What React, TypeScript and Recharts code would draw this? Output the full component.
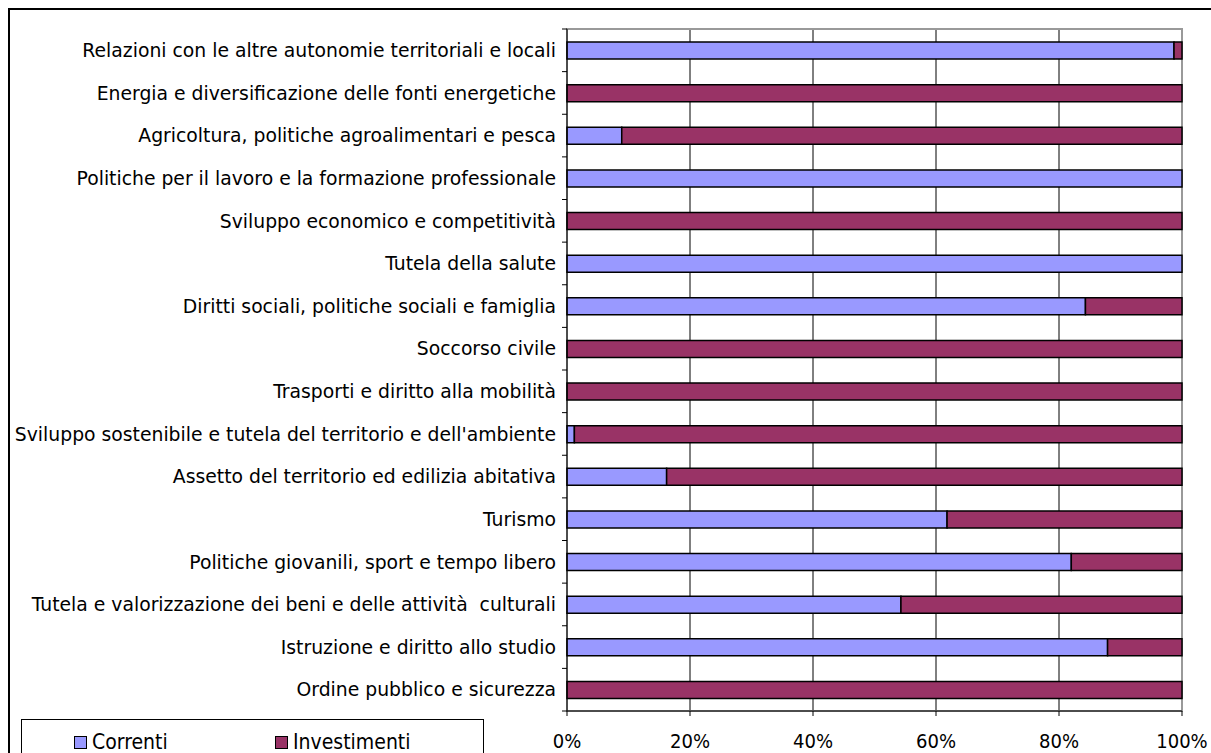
import React from "react";
import {
  BarChart,
  Bar,
  XAxis,
  YAxis,
  CartesianGrid,
  Legend,
  ReferenceArea,
} from "recharts";

// categories, top to bottom
const categories = [
  "Relazioni con le altre autonomie territoriali e locali",
  "Energia e diversificazione delle fonti energetiche",
  "Agricoltura, politiche agroalimentari e pesca",
  "Politiche per il lavoro e la formazione professionale",
  "Sviluppo economico e competitività",
  "Tutela della salute",
  "Diritti sociali, politiche sociali e famiglia",
  "Soccorso civile",
  "Trasporti e diritto alla mobilità",
  "Sviluppo sostenibile e tutela del territorio e dell'ambiente",
  "Assetto del territorio ed edilizia abitativa",
  "Turismo",
  "Politiche giovanili, sport e tempo libero",
  "Tutela e valorizzazione dei beni e delle attività  culturali",
  "Istruzione e diritto allo studio",
  "Ordine pubblico e sicurezza",
];

// shares in percent
const correnti = [98.7, 0, 8.9, 100, 0, 100, 84.3, 0, 0, 1.2, 16.2, 61.8, 82.0, 54.3, 87.9, 0];
const investimenti = [1.3, 100, 91.1, 0, 100, 0, 15.7, 100, 100, 98.8, 83.8, 38.2, 18.0, 45.7, 12.1, 100];

const xTicks = [0, 20, 40, 60, 80, 100];

const seriesNames = ["Correnti", "Investimenti"];
const CORRENTI_COLOR = "#9999ff";
const INVESTIMENTI_COLOR = "#993366";

const FONT = "'DejaVu Sans', sans-serif";
const FONT_NARROW = "'DejaVu Sans Condensed', 'DejaVu Sans', sans-serif";

const data = categories.map((name, i) => ({
  name,
  correnti: correnti[i],
  investimenti: investimenti[i],
}));

// category label plus a small tick mark at the band edges
const CategoryTick = (props: any) => {
  const { x, y, payload, index, visibleTicksCount } = props;
  const half = payload.offset || 0;
  return (
    <g>
      <line x1={x - 5} x2={x} y1={y - half} y2={y - half} stroke="#000" />
      {index === visibleTicksCount - 1 && (
        <line x1={x - 5} x2={x} y1={y + half} y2={y + half} stroke="#000" />
      )}
      <text
        x={x - 11}
        y={y}
        dy="0.36em"
        textAnchor="end"
        fontSize={18.8}
        fontFamily={FONT}
        fill="#000"
        style={{ whiteSpace: "pre" }}
      >
        {payload.value}
      </text>
    </g>
  );
};

const LegendBox = () => (
  <div
    style={{
      position: "relative",
      width: 461,
      height: 45,
      border: "1px solid #000",
      background: "#fff",
      fontFamily: FONT_NARROW,
      fontSize: 21,
      color: "#000",
    }}
  >
    {[CORRENTI_COLOR, INVESTIMENTI_COLOR].map((c, i) => (
      <div
        key={seriesNames[i]}
        style={{
          position: "absolute",
          left: i === 0 ? 52 : 253,
          top: 10,
          display: "flex",
          alignItems: "center",
          whiteSpace: "nowrap",
        }}
      >
        <span
          style={{
            display: "inline-block",
            width: 11,
            height: 11,
            background: c,
            border: "1px solid #000",
            marginRight: 5,
          }}
        />
        {seriesNames[i]}
      </div>
    ))}
  </div>
);

export default function App() {
  return (
    <div
      style={{
        position: "fixed",
        left: 0,
        top: 0,
        width: 1211,
        height: 753,
        overflow: "hidden",
        background: "#fff",
      }}
    >
      <div
        style={{
          position: "absolute",
          left: 8,
          top: 8,
          width: 1230,
          height: 780,
          borderTop: "2px solid #000",
          borderLeft: "2px solid #000",
        }}
      />
      <div style={{ position: "absolute", left: 0, top: 0 }}>
        <BarChart
          width={1211}
          height={753}
          layout="vertical"
          data={data}
          margin={{ top: 29, right: 29, left: 8, bottom: 0 }}
          barSize={17}
        >
          <CartesianGrid horizontal={false} stroke="#000" />
          <ReferenceArea x1={0} x2={100} fill="none" stroke="#999" strokeWidth={2} />
          <XAxis
            type="number"
            domain={[0, 100]}
            ticks={xTicks}
            interval={0}
            height={42}
            tickSize={5}
            tickMargin={18}
            stroke="#000"
            tickFormatter={(v) => `${v}%`}
            tick={{ fill: "#000", fontSize: 20, fontFamily: FONT_NARROW }}
          />
          <YAxis
            type="category"
            dataKey="name"
            width={559}
            interval={0}
            tickLine={false}
            tickSize={0}
            tickMargin={0}
            stroke="#000"
            tick={<CategoryTick />}
          />
          <Legend
            layout="horizontal"
            verticalAlign="middle"
            align="center"
            wrapperStyle={{ left: 21, top: 719, width: 463, height: 47 }}
            content={() => <LegendBox />}
          />
          <Bar
            dataKey="correnti"
            stackId="a"
            fill={CORRENTI_COLOR}
            stroke="#000"
            strokeWidth={1.5}
            isAnimationActive={false}
          />
          <Bar
            dataKey="investimenti"
            stackId="a"
            fill={INVESTIMENTI_COLOR}
            stroke="#000"
            strokeWidth={1.5}
            isAnimationActive={false}
          />
        </BarChart>
      </div>
    </div>
  );
}
